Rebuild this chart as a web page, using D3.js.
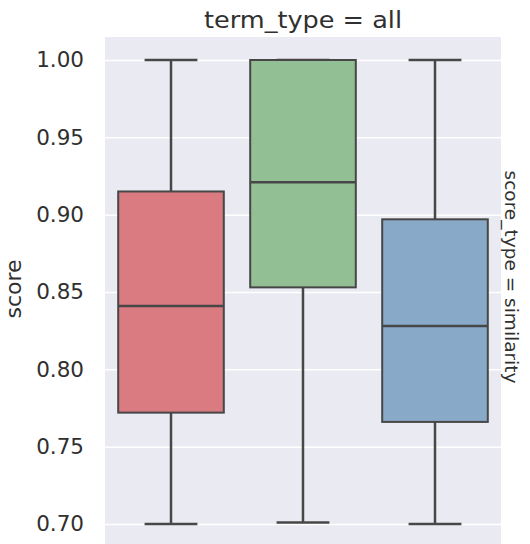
<!DOCTYPE html>
<html>
<head>
<meta charset="utf-8">
<script src="https://cdn.jsdelivr.net/npm/d3@7/dist/d3.min.js"></script>
<style>
  body { margin: 0; background: #ffffff; }
  svg { display: block; }
  text { font-family: "DejaVu Sans", sans-serif; fill: #303030; }
</style>
</head>
<body>
<svg id="chart" width="530" height="544"></svg>
<script>
// Box statistics per group (score_type = similarity, term_type = all)
const groups      = ["group_1", "group_2", "group_3"];
const whiskerLow  = [0.700, 0.701, 0.700];
const quartile1   = [0.772, 0.853, 0.766];
const medians     = [0.841, 0.921, 0.828];
const quartile3   = [0.915, 1.000, 0.897];
const whiskerHigh = [1.000, 1.000, 1.000];
const fills       = ["#d97b80", "#92bf94", "#88a9c8"];

const yTicks = [0.70, 0.75, 0.80, 0.85, 0.90, 0.95, 1.00];

const svg = d3.select("#chart");
const plot = { left: 105, right: 501, top: 37, bottom: 547 };

const x = d3.scaleBand().domain(groups).range([plot.left, plot.right]).padding(0);
const y = d3.scaleLinear().domain([0.70, 1.00]).range([524, 60]);

// Axes background
svg.append("rect")
  .attr("x", plot.left).attr("y", plot.top)
  .attr("width", plot.right - plot.left).attr("height", plot.bottom - plot.top)
  .attr("fill", "#eaeaf2");

// White horizontal grid
const grid = svg.append("g")
  .attr("transform", `translate(${plot.left},0)`)
  .call(d3.axisLeft(y).tickValues(yTicks).tickSize(-(plot.right - plot.left)).tickFormat(""));
grid.select(".domain").remove();
grid.selectAll(".tick line").attr("stroke", "#ffffff").attr("stroke-width", 1.5);

// Tick labels
const yAxis = svg.append("g")
  .attr("transform", `translate(${plot.left},0)`)
  .call(d3.axisLeft(y).tickValues(yTicks).tickSize(0).tickPadding(21).tickFormat(d3.format(".2f")));
yAxis.select(".domain").remove();
yAxis.selectAll("text")
  .style("font-family", "DejaVu Sans, sans-serif")
  .style("font-size", "21.5px")
  .attr("fill", "#303030");

const boxW = x.bandwidth() * 0.8;
const capW = boxW * 0.5;
const lineColor = "#474747";

const boxes = svg.append("g").selectAll("g")
  .data(groups.map((g, i) => ({
    g, lo: whiskerLow[i], q1: quartile1[i], med: medians[i], q3: quartile3[i], hi: whiskerHigh[i], fill: fills[i]
  })))
  .join("g")
  .attr("transform", d => `translate(${x(d.g) + x.bandwidth() / 2},0)`);

// whiskers
boxes.append("line")
  .attr("x1", 0).attr("x2", 0)
  .attr("y1", d => y(d.q3)).attr("y2", d => y(d.hi))
  .attr("stroke", lineColor).attr("stroke-width", 2.5);
boxes.append("line")
  .attr("x1", 0).attr("x2", 0)
  .attr("y1", d => y(d.q1)).attr("y2", d => y(d.lo))
  .attr("stroke", lineColor).attr("stroke-width", 2.5);
// caps
boxes.append("line")
  .attr("x1", -capW / 2).attr("x2", capW / 2)
  .attr("y1", d => y(d.hi)).attr("y2", d => y(d.hi))
  .attr("stroke", lineColor).attr("stroke-width", 2.5);
boxes.append("line")
  .attr("x1", -capW / 2).attr("x2", capW / 2)
  .attr("y1", d => y(d.lo)).attr("y2", d => y(d.lo))
  .attr("stroke", lineColor).attr("stroke-width", 2.5);
// box
boxes.append("rect")
  .attr("x", -boxW / 2).attr("width", boxW)
  .attr("y", d => y(d.q3)).attr("height", d => y(d.q1) - y(d.q3))
  .attr("fill", d => d.fill)
  .attr("stroke", lineColor).attr("stroke-width", 2);
// median
boxes.append("line")
  .attr("x1", -boxW / 2).attr("x2", boxW / 2)
  .attr("y1", d => y(d.med)).attr("y2", d => y(d.med))
  .attr("stroke", lineColor).attr("stroke-width", 2.5);

// Facet title
svg.append("text")
  .attr("x", (plot.left + plot.right) / 2).attr("y", 28)
  .attr("text-anchor", "middle")
  .attr("textLength", 198)
  .attr("lengthAdjust", "spacingAndGlyphs")
  .style("font-size", "22.5px")
  .text("term_type = all");

// Y axis label
svg.append("text")
  .attr("transform", "translate(21,289) rotate(-90)")
  .attr("text-anchor", "middle")
  .style("font-size", "22px")
  .text("score");

// Row margin title
svg.append("text")
  .attr("transform", "translate(505,277) rotate(90)")
  .attr("text-anchor", "middle")
  .style("font-size", "18.5px")
  .text("score_type = similarity");
</script>
</body>
</html>
